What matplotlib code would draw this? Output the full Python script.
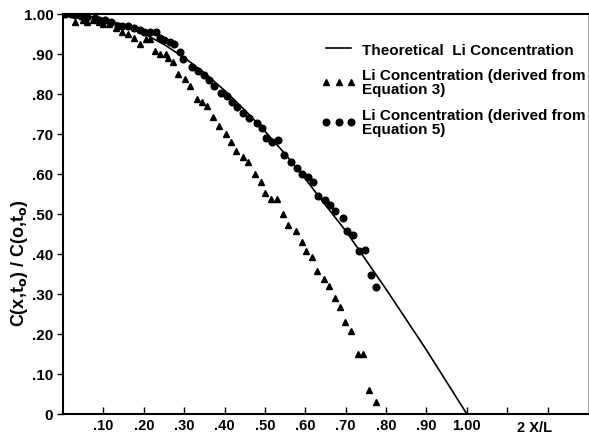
import numpy as np
import matplotlib
matplotlib.use('Agg')
import matplotlib.pyplot as plt

plt.rcParams['font.family'] = ['Liberation Sans', 'DejaVu Sans']

# theoretical curve
x_theo = [0, .05, .10, .15, .20, .25, .30, .35, .40, .45, .50, .55, .60, .65, .70, .75, .80, .85, .90, .95, 1.00]
y_theo = [1.0, .997, .988, .972, .951, .924, .891, .853, .809, .760, .707, .650, .588, .522, .458, .385, .312, .236, .160, .080, 0.0]

# Li concentration derived from equation 3 (triangles)
x_eq3 = [.03, .05, .06, .075, .09, .10, .115, .13, .145, .16, .175, .19, .205, .215, .228, .24, .255, .26, .272, .285,
         .302, .314, .332, .344, .356, .371, .386, .403, .416, .428, .446, .458, .475, .490, .500, .515, .530, .545,
         .557, .577, .592, .601, .616, .629, .646, .658, .673, .686, .698, .713, .730, .743, .757, .775]
y_eq3 = [.980, .985, .980, .985, .980, .975, .975, .965, .955, .950, .940, .925, .938, .938, .908, .900, .900, .890, .880, .850,
         .838, .820, .788, .780, .770, .743, .720, .700, .680, .658, .643, .630, .600, .580, .553, .538, .538, .500,
         .473, .458, .430, .408, .393, .358, .338, .320, .290, .268, .230, .208, .150, .150, .060, .030]

# Li concentration derived from equation 5 (circles)
x_eq5 = [.005, .02, .03, .045, .06, .08, .09, .105, .12, .135, .145, .16, .175, .19, .20, .215, .23, .24, .25, .265, .275, .29,
         .297, .319, .334, .349, .361, .374, .391, .406, .418, .431, .446, .460, .480, .493, .502, .517, .532, .547,
         .564, .579, .592, .606, .619, .631, .649, .661, .673, .693, .703, .718, .733, .748, .762, .775]
y_eq5 = [1.0, 1.0, .997, .995, .993, .990, .985, .985, .980, .970, .970, .970, .965, .960, .955, .955, .955, .940, .935, .930, .925, .905,
         .888, .868, .858, .848, .835, .820, .803, .795, .780, .768, .753, .740, .728, .715, .690, .680, .685, .648,
         .630, .615, .600, .593, .580, .545, .535, .523, .508, .490, .458, .448, .408, .410, .348, .318]

xticks = [.1, .2, .3, .4, .5, .6, .7, .8, .9, 1.0, 1.1, 1.2]
xticklabels = ['.10', '.20', '.30', '.40', '.50', '.60', '.70', '.80', '.90', '1.00', '', '']
yticks = [0, .1, .2, .3, .4, .5, .6, .7, .8, .9, 1.0]
yticklabels = ['0', '.10', '.20', '.30', '.40', '.50', '.60', '.70', '.80', '.90', '1.00']

fig = plt.figure(figsize=(5.89, 4.35), dpi=100)
ax = fig.add_axes([63/589, 20/435, 525/589, 400/435])

ax.plot(x_theo, y_theo, color='black', lw=1.2, label='Theoretical  Li Concentration')
ax.plot(x_eq3, y_eq3, ls='none', marker='^', ms=4.8, color='black',
        label='Li Concentration (derived from\nEquation 3)')
ax.plot(x_eq5, y_eq5, ls='none', marker='o', ms=4.8, color='black',
        label='Li Concentration (derived from\nEquation 5)')

ax.set_xlim(0, 1.30)
ax.set_ylim(0, 1.0)
for s in ['left', 'bottom', 'top']:
    ax.spines[s].set_linewidth(1.5)
ax.spines['right'].set_linewidth(0.5)
ax.spines['right'].set_color('#888888')

ax.set_xticks(xticks)
ax.set_xticklabels(xticklabels, fontweight='bold', fontsize=10.5)
ax.set_yticks(yticks)
ax.set_yticklabels(yticklabels, fontweight='bold', fontsize=11)
ax.tick_params(axis='x', direction='in', length=5, width=1, pad=3)
ax.tick_params(axis='y', direction='out', length=4, width=1, pad=3)

ax.text(1.168, -0.0325, '2 X/L', ha='center', va='center', fontweight='bold', fontsize=10.5)

ax.set_ylabel(r'C(x,t$_\mathbf{o}$) / C(o,t$_\mathbf{o}$)', fontweight='bold', fontsize=13)
ax.yaxis.set_label_coords(-0.062, 0.38)

leg = ax.legend(loc='upper left', bbox_to_anchor=(0.493, 0.928), frameon=False, numpoints=3,
                handlelength=2.2, handletextpad=0.45, labelspacing=0.75, borderpad=0,
                borderaxespad=0, prop=dict(weight='bold', size=11))
for t in leg.get_texts():
    t.set_linespacing(1.0)

fig.savefig('out.png', dpi=100)
